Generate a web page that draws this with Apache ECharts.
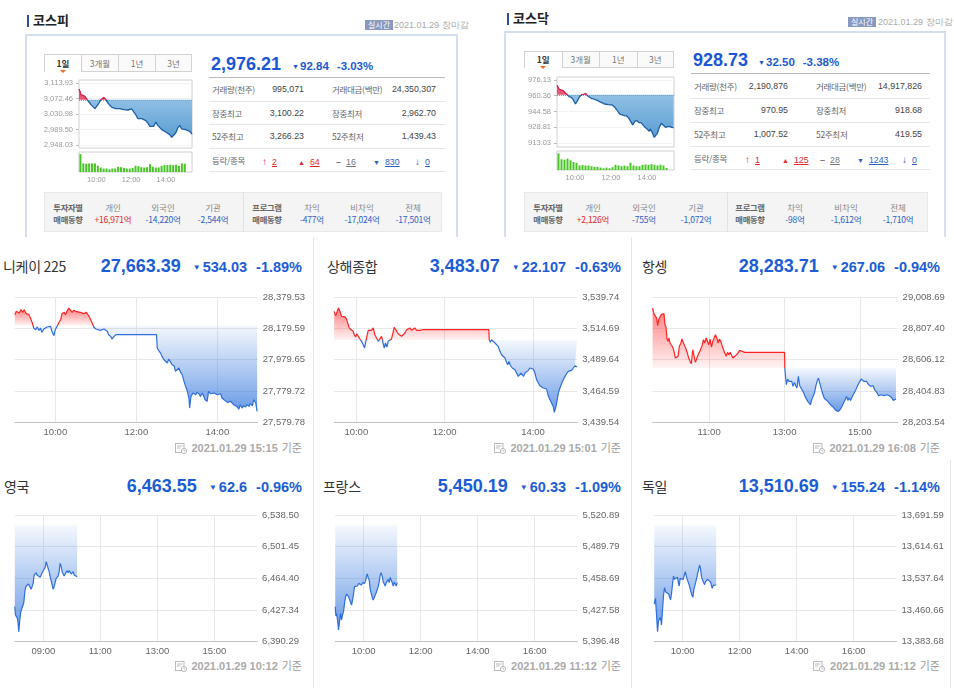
<!DOCTYPE html>
<html><head><meta charset="utf-8">
<script src="https://cdn.jsdelivr.net/npm/echarts@6/dist/echarts.min.js"></script>
<style>
body{margin:0;background:#fff;font-family:"Liberation Sans","Noto Sans CJK KR",sans-serif;}
#root{position:relative;width:954px;height:688px;overflow:hidden;background:#fff;}
.abs{position:absolute;white-space:nowrap;}
</style></head>
<body><div id="root"></div>
<script>
// ---------------- DATA ----------------
const kospiQuote = ['2,976.21', '92.84', '-3.03%'];
const kospiPrevClose = 3069.05;
const kospiStats = [['거래량(천주)', '995,071', '거래대금(백만)', '24,350,307'], ['장중최고', '3,100.22', '장중최저', '2,962.70'], ['52주최고', '3,266.23', '52주최저', '1,439.43']];
const kospiBreadth = ['2', '64', '16', '830', '0'];
const kospiInvestors = [['개인', '+16,971억'], ['외국인', '-14,220억'], ['기관', '-2,544억']];
const kospiProgram = [['차익', '-477억'], ['비차익', '-17,024억'], ['전체', '-17,501억']];
const kospiYTicks = [2948.03, 2989.50, 3030.98, 3072.46, 3113.93];
const kospiData = [[540,3098.0],[543.4,3091.6],[546.9,3082.7],[553.8,3082.7],[560.6,3078.3],[567.5,3069.3],[574.4,3063.1],[581.3,3056.0],[588.2,3054.2],[595.1,3045.3],[598.5,3042.6],[601.9,3047.0],[608.8,3060.4],[615.7,3069.3],[622.6,3072.0],[626.0,3075.6],[632.9,3069.3],[639.8,3060.4],[646.7,3054.2],[653.6,3048.8],[660.4,3048.8],[667.3,3045.3],[674.2,3044.4],[681.1,3045.3],[688.0,3044.4],[694.8,3042.6],[701.7,3041.7],[708.6,3041.7],[715.5,3042.6],[722.4,3044.4],[729.3,3036.3],[736.1,3029.2],[743.0,3018.5],[749.9,3020.3],[756.8,3018.5],[763.7,3015.8],[770.5,3013.1],[777.4,3006.9],[784.3,2998.0],[791.2,3000.7],[798.1,2998.0],[805.0,3009.6],[811.8,3000.7],[818.7,2998.0],[825.6,2989.1],[832.5,2984.6],[839.4,2982.8],[846.2,2977.5],[853.1,2975.7],[860.0,2968.6],[863.5,2965.0],[866.9,2966.8],[873.8,2980.2],[880.7,2993.5],[887.5,3000.7],[894.4,2990.9],[901.3,2986.4],[908.2,2989.1],[915.1,2986.4],[921.9,2984.6],[930,2977.5]];
const kospiVolume = [[545,52],[555,25],[565,24],[575,25],[585,25],[595,25],[605,18],[615,13],[625,10],[635,10],[645,8],[655,10],[665,10],[675,15],[685,14],[695,12],[705,10],[715,10],[725,12],[735,18],[745,17],[755,14],[765,13],[775,14],[785,23],[795,15],[805,13],[815,13],[825,18],[835,20],[845,20],[855,21],[865,20],[875,21],[885,18],[895,25],[905,24]];

const kosdaqQuote = ['928.73', '32.50', '-3.38%'];
const kosdaqPrevClose = 961.23;
const kosdaqStats = [['거래량(천주)', '2,190,876', '거래대금(백만)', '14,917,826'], ['장중최고', '970.95', '장중최저', '918.68'], ['52주최고', '1,007.52', '52주최저', '419.55']];
const kosdaqBreadth = ['1', '125', '28', '1243', '0'];
const kosdaqInvestors = [['개인', '+2,126억'], ['외국인', '-755억'], ['기관', '-1,072억']];
const kosdaqProgram = [['차익', '-98억'], ['비차익', '-1,612억'], ['전체', '-1,710억']];
const kosdaqYTicks = [913.03, 928.81, 944.58, 960.36, 976.13];
const kosdaqData = [[540,970.9],[546.8,967.1],[553.6,966.1],[560.5,965.5],[567.3,963.4],[574.1,961.4],[580.9,959.4],[587.8,958.8],[594.6,956.1],[601.4,952.1],[608.2,955.4],[615.0,959.4],[621.9,961.4],[628.7,961.8],[635.5,962.8],[642.3,960.1],[649.2,958.8],[656.0,957.4],[662.8,957.1],[669.6,956.1],[676.4,955.4],[683.3,954.1],[690.1,953.4],[696.9,952.1],[703.7,951.8],[710.6,951.4],[717.4,951.1],[724.2,951.1],[731.0,949.4],[737.8,946.8],[744.7,943.8],[751.5,941.4],[758.3,941.1],[765.1,940.4],[772.0,940.1],[778.8,938.1],[785.6,934.7],[792.4,931.1],[799.2,934.7],[806.1,935.4],[812.9,933.4],[819.7,933.4],[826.5,931.1],[833.3,928.7],[840.2,927.1],[847.0,924.7],[850.4,927.1],[857.2,923.7],[864.0,918.7],[867.5,918.0],[874.3,922.7],[881.1,928.7],[887.9,932.7],[894.7,930.7],[901.6,928.7],[908.4,929.4],[915.2,929.7],[922.0,928.7],[928.8,928.4]];
const kosdaqVolume = [[545,48],[555,31],[565,30],[575,33],[585,28],[595,23],[605,21],[615,13],[625,14],[635,13],[645,13],[655,11],[665,9],[675,9],[685,7],[695,5],[705,7],[715,5],[725,8],[735,15],[745,13],[755,11],[765,13],[775,11],[785,21],[795,13],[805,11],[815,11],[825,15],[835,16],[845,15],[855,17],[865,15],[875,13],[885,15],[895,13],[905,6]];

const krXTicks = [600, 720, 840];
const tabLabels = ['1일', '3개월', '1년', '3년'];

const nikkeiQuote = ['27,663.39', '534.03', '-1.89%'];
const nikkeiPrevClose = 28197.42;
const nikkeiYTicks = [27579.78, 27779.72, 27979.65, 28179.59, 28379.53];
const nikkeiXTicks = [600, 720, 840];
const nikkeiData = [[540,28266.8],[542,28288.0],[544,28294.5],[547,28277.4],[549,28298.7],[552,28281.7],[554,28298.7],[557,28273.2],[561,28266.8],[563,28245.5],[566,28213.6],[568,28181.7],[571,28171.1],[573,28188.1],[576,28166.8],[578,28181.7],[580,28154.0],[583,28175.3],[585,28166.8],[588,28188.1],[590,28181.7],[593,28192.4],[595,28160.5],[598,28132.8],[600,28171.1],[603,28196.6],[605,28213.6],[608,28234.9],[610,28273.2],[613,28281.7],[615,28266.8],[618,28294.5],[620,28309.3],[622,28298.7],[625,28281.7],[627,28294.5],[630,28288.1],[632,28298.7],[637,28281.7],[642,28273.2],[646,28281.7],[650,28256.2],[652,28245.5],[655,28209.4],[657,28188.1],[660,28175.3],[662,28181.7],[667,28166.8],[672,28175.3],[674,28166.8],[677,28160.5],[679,28139.2],[682,28128.5],[684,28111.5],[687,28128.5],[690,28139.2],[750,28139.2],[751,28054.1],[753,28039.2],[756,28022.2],[758,28000.9],[761,27979.6],[763,27969.0],[766,27958.4],[768,27983.9],[771,27962.6],[773,27947.7],[776,27941.4],[778,27905.2],[780,27915.9],[783,27926.5],[785,27905.2],[788,27883.9],[790,27852.0],[793,27809.5],[795,27788.2],[798,27735.1],[799,27671.2],[801,27745.6],[804,27766.9],[808,27756.3],[810,27771.2],[813,27762.7],[815,27745.6],[818,27766.9],[820,27756.3],[822,27724.4],[825,27713.8],[827,27777.6],[830,27762.7],[832,27750.0],[835,27766.9],[840,27756.3],[842,27745.6],[845,27762.7],[847,27735.1],[850,27724.4],[852,27728.7],[855,27707.4],[860,27713.8],[864,27692.5],[869,27681.9],[872,27664.9],[874,27692.5],[877,27671.2],[879,27686.1],[882,27677.6],[884,27692.5],[887,27681.9],[889,27699.2],[892,27686.1],[894,27724.4],[897,27703.1],[899,27650.0]];

const shanghaiQuote = ['3,483.07', '22.107', '-0.63%'];
const shanghaiPrevClose = 3505.177;
const shanghaiYTicks = [3439.54, 3464.59, 3489.64, 3514.69, 3539.74];
const shanghaiXTicks = [600, 720, 840];
const shanghaiData = [[570.0,3528.3],[571.8,3524.8],[573.2,3526.4],[574.5,3529.1],[575.9,3530.9],[577.2,3529.1],[578.6,3526.9],[580.0,3524.3],[582.2,3522.9],[584.5,3523.8],[586.8,3522.1],[588.1,3522.9],[589.9,3515.8],[591.7,3514.2],[593.5,3513.1],[595.8,3512.3],[597.2,3509.6],[599.0,3507.8],[600.8,3510.4],[602.6,3508.3],[604.9,3506.2],[607.1,3504.3],[609.4,3501.6],[611.2,3499.0],[612.6,3503.0],[614.4,3508.3],[616.2,3513.1],[618.5,3514.2],[620.7,3513.1],[623.0,3515.0],[625.2,3509.6],[627.5,3507.0],[629.8,3504.3],[632.0,3503.0],[634.3,3508.3],[636.6,3509.6],[637.9,3499.0],[639.7,3503.0],[641.5,3499.8],[643.4,3504.3],[645.6,3505.6],[647.9,3506.2],[650.2,3512.3],[651.5,3515.5],[653.3,3514.2],[655.1,3512.3],[656.9,3510.4],[659.2,3511.5],[661.5,3508.3],[663.7,3509.6],[666.0,3511.0],[668.3,3513.6],[670.5,3512.3],[672.8,3515.0],[675.1,3513.1],[677.3,3514.2],[679.6,3515.0],[681.9,3513.1],[684.1,3512.3],[686.4,3513.1],[688.6,3513.6],[690,3513.6],[780,3513.6],[780.5,3505.6],[781.9,3503.5],[783.7,3505.6],[786.0,3504.3],[788.3,3503.0],[790.5,3501.6],[792.8,3500.3],[795.1,3496.3],[797.3,3493.6],[799.6,3492.3],[801.9,3491.0],[804.1,3487.5],[805.5,3485.6],[807.3,3488.3],[809.5,3484.8],[811.8,3483.0],[813.6,3484.3],[815.4,3481.6],[817.7,3480.3],[820.0,3476.3],[821.8,3475.0],[823.6,3479.0],[825.4,3480.3],[827.2,3476.3],[829.0,3479.0],[831.3,3477.6],[833.6,3481.1],[835.8,3483.0],[838.1,3483.8],[840.3,3482.2],[842.6,3479.0],[844.9,3473.6],[847.1,3471.0],[849.4,3468.9],[851.7,3468.3],[853.9,3467.0],[856.2,3465.7],[858.5,3466.2],[860.7,3460.8],[863.0,3457.7],[865.2,3456.3],[867.5,3452.3],[868.9,3447.5],[870.7,3450.9],[872.5,3456.3],[874.3,3463.0],[876.6,3467.0],[878.8,3470.5],[881.1,3473.6],[883.4,3476.3],[885.6,3478.4],[887.9,3480.3],[890.2,3479.0],[892.4,3481.1],[894.7,3483.0],[897.0,3484.8],[899.7,3483.8]];

const hangSengQuote = ['28,283.71', '267.06', '-0.94%'];
const hangSengPrevClose = 28550.77;
const hangSengYTicks = [28203.54, 28404.83, 28606.12, 28807.40, 29008.69];
const hangSengXTicks = [660, 780, 900];
const hangSengData = [[570.0,28938.0],[572.1,28901.6],[574.3,28888.8],[576.4,28873.8],[578.0,28824.5],[579.6,28863.1],[581.7,28880.2],[583.8,28895.2],[586.0,28888.8],[588.1,28901.6],[589.7,28830.9],[591.3,28816.0],[592.9,28738.9],[594.5,28723.9],[596.1,28745.3],[597.7,28713.2],[599.8,28717.5],[601.9,28687.5],[604.1,28659.6],[606.2,28616.8],[608.3,28610.4],[610.4,28627.5],[612.6,28691.8],[614.7,28708.9],[616.8,28738.9],[619.0,28713.2],[621.1,28717.5],[623.2,28674.6],[625.3,28648.9],[627.5,28616.8],[629.6,28595.4],[631.7,28580.4],[633.9,28670.3],[636.0,28681.0],[638.1,28589.0],[640.3,28580.4],[642.4,28638.2],[644.5,28653.2],[646.6,28674.6],[648.8,28696.0],[650.9,28734.6],[653.0,28713.2],[655.2,28745.3],[657.3,28734.6],[659.4,28702.5],[661.5,28738.9],[663.7,28687.5],[665.8,28723.9],[667.9,28745.3],[670.1,28766.7],[672.2,28745.3],[674.3,28713.2],[676.4,28738.9],[678.6,28723.9],[680.7,28696.0],[682.8,28670.3],[685.0,28648.9],[687.1,28627.5],[689.2,28653.2],[691.3,28638.2],[693.5,28653.2],[695.6,28648.9],[697.7,28616.8],[699.9,28610.4],[702.0,28631.8],[704.1,28627.5],[706.2,28648.9],[708.4,28666.1],[710.5,28670.3],[712.6,28659.6],[714.8,28657.5],[716.9,28653.2],[720,28653.2],[780,28653.2],[780.5,28552.6],[781.3,28509.7],[782.9,28445.5],[785.0,28481.9],[787.1,28466.9],[789.3,28456.2],[791.4,28466.9],[793.5,28434.8],[795.7,28460.5],[797.8,28439.1],[799.9,28424.1],[802.0,28499.0],[804.2,28439.1],[806.3,28424.1],[808.4,28413.4],[810.6,28392.0],[812.7,28370.6],[814.8,28353.4],[816.9,28338.4],[819.1,28327.7],[821.2,28317.0],[823.3,28349.1],[825.5,28370.6],[827.6,28392.0],[829.7,28434.8],[831.8,28466.9],[834.0,28488.3],[836.1,28456.2],[838.2,28424.1],[840.4,28392.0],[842.5,28366.3],[844.6,28353.4],[846.7,28359.9],[848.9,28338.4],[851.0,28327.7],[853.1,28317.0],[855.3,28310.6],[857.4,28302.0],[859.5,28295.6],[861.6,28280.6],[863.8,28284.9],[865.9,28274.2],[868.0,28284.9],[870.2,28295.6],[872.3,28306.3],[874.4,28332.0],[876.5,28349.1],[878.7,28370.6],[880.8,28344.9],[882.9,28359.9],[885.1,28344.9],[887.2,28353.4],[889.3,28381.3],[891.4,28392.0],[893.6,28413.4],[895.7,28434.8],[897.8,28451.9],[900.0,28466.9],[902.1,28481.9],[904.2,28477.6],[906.3,28466.9],[908.5,28477.6],[910.6,28466.9],[912.7,28451.9],[914.9,28460.5],[917.0,28434.8],[919.1,28424.1],[921.2,28439.1],[923.4,28413.4],[925.5,28402.7],[927.6,28392.0],[929.8,28374.9],[931.9,28366.3],[934.0,28381.3],[936.1,28370.6],[938.3,28374.9],[940.4,28366.3],[942.5,28381.3],[944.7,28370.6],[946.8,28374.9],[948.9,28366.3],[951.0,28359.9],[953.2,28344.9],[955.3,28353.4],[957.4,28353.4]];

const ukQuote = ['6,463.55', '62.6', '-0.96%'];
const ukPrevClose = 6526.15;
const ukYTicks = [6390.29, 6427.34, 6464.40, 6501.45, 6538.50];
const ukXTicks = [540, 660, 780, 900];
const ukData = [[480.0,6431.24],[481.4,6421.49],[482.8,6419.54],[484.2,6423.44],[485.6,6417.59],[487.0,6411.74],[488.4,6401.99],[490.5,6415.64],[492.6,6425.39],[494.7,6427.34],[496.8,6426.56],[498.9,6435.92],[501.1,6448.79],[503.2,6454.64],[506.0,6455.42],[508.8,6457.76],[511.6,6456.59],[514.4,6451.52],[516.5,6449.96],[518.6,6458.54],[520.7,6468.29],[522.8,6470.24],[524.9,6471.02],[527.0,6468.29],[529.1,6466.34],[531.2,6467.12],[533.3,6465.56],[535.4,6468.29],[537.5,6471.02],[539.7,6473.37],[541.8,6474.93],[543.9,6477.27],[546.0,6483.90],[548.1,6480.00],[550.2,6476.10],[552.3,6472.19],[554.4,6466.34],[556.5,6461.66],[558.6,6456.59],[560.7,6451.52],[562.8,6454.64],[564.9,6459.32],[567.0,6464.39],[569.1,6465.56],[571.2,6467.12],[573.3,6472.19],[575.4,6481.95],[577.5,6478.83],[579.7,6472.19],[581.8,6469.46],[583.9,6467.12],[586.0,6469.46],[588.1,6471.02],[590.2,6473.37],[592.3,6471.02],[594.4,6473.37],[596.5,6472.19],[598.6,6469.46],[600.7,6469.46],[602.8,6472.19],[604.9,6468.29],[607.0,6467.90],[609.1,6466.34],[611.2,6466.34]];

const franceQuote = ['5,450.19', '60.33', '-1.09%'];
const francePrevClose = 5510.52;
const franceYTicks = [5396.48, 5427.58, 5458.69, 5489.79, 5520.89];
const europeXTicks = [600, 720, 840, 960];
const franceData = [[540.0,5430.85],[541.4,5421.69],[542.8,5424.31],[544.9,5417.76],[547.0,5407.94],[549.1,5416.12],[551.2,5424.31],[553.3,5417.76],[555.4,5422.67],[557.5,5425.94],[559.7,5434.13],[561.8,5440.68],[563.9,5443.29],[566.0,5442.64],[568.1,5440.68],[570.2,5440.68],[572.3,5439.04],[574.4,5432.49],[576.5,5437.40],[578.6,5443.29],[580.7,5450.50],[582.8,5452.13],[584.9,5448.86],[587.0,5451.15],[589.1,5453.77],[591.2,5453.12],[593.3,5453.12],[595.4,5452.13],[597.5,5454.43],[599.7,5453.12],[601.8,5453.77],[603.9,5456.39],[606.0,5460.97],[607.4,5462.94],[609.5,5459.34],[611.6,5457.05],[613.7,5447.88],[615.8,5443.95],[617.9,5440.02],[620.0,5437.40],[622.1,5436.75],[624.2,5442.33],[626.3,5444.60],[628.4,5444.60],[630.5,5450.50],[632.6,5455.41],[634.7,5461.96],[636.8,5464.25],[639.0,5460.32],[641.1,5455.41],[643.2,5453.45],[645.3,5451.15],[647.4,5454.43],[649.5,5456.39],[651.6,5457.70],[653.7,5454.43],[655.8,5459.67],[657.9,5460.32],[660.0,5454.43],[662.1,5451.15],[664.2,5455.08],[666.3,5453.12],[668.4,5451.15],[670.5,5454.43]];

const germanyQuote = ['13,510.69', '155.24', '-1.14%'];
const germanyPrevClose = 13665.93;
const germanyYTicks = [13383.68, 13460.66, 13537.64, 13614.61, 13691.59];
const germanyData = [[540.0,13475.24],[541.4,13472.81],[542.8,13489.02],[544.9,13448.50],[547.0,13408.00],[549.1,13434.73],[551.2,13436.35],[553.3,13442.83],[555.4,13424.19],[557.5,13460.66],[559.7,13497.12],[561.8,13514.94],[563.9,13505.22],[566.0,13501.17],[568.1,13505.22],[570.2,13499.55],[572.3,13493.07],[574.4,13484.97],[576.5,13501.17],[578.6,13523.86],[580.7,13543.30],[582.8,13535.20],[584.9,13540.06],[587.0,13530.34],[589.1,13540.06],[591.2,13525.48],[592.6,13519.00],[594.7,13537.63],[596.8,13533.58],[598.9,13535.20],[601.1,13535.20],[603.2,13540.06],[605.3,13553.84],[606.7,13557.89],[608.8,13537.63],[610.9,13532.77],[613.0,13523.86],[615.1,13515.76],[617.2,13505.22],[619.3,13497.12],[621.4,13491.45],[623.5,13510.89],[625.6,13513.32],[627.7,13529.53],[629.8,13540.06],[631.9,13551.41],[634.0,13561.94],[635.4,13570.04],[637.6,13561.13],[639.7,13540.06],[641.8,13533.58],[643.9,13529.53],[646.0,13522.24],[648.1,13529.53],[650.2,13527.10],[652.3,13535.20],[654.4,13533.58],[656.5,13540.06],[658.6,13528.72],[660.7,13523.86],[662.1,13513.32],[664.2,13520.62],[666.3,13523.86],[668.4,13520.62],[670.5,13521.43]];

// ---------------- HELPERS ----------------
const FONT = "'Liberation Sans', Arial, sans-serif";
const KFONT = "'Noto Sans CJK KR', sans-serif";
const root = document.getElementById('root');
function T(x, cy, html, css, align) {
  const d = document.createElement('div');
  d.className = 'abs';
  d.style.cssText = css || '';
  d.style.top = (cy - 10) + 'px';
  d.style.height = '20px';
  d.style.lineHeight = '20px';
  if (align === 'right') d.style.right = (954 - x) + 'px';
  else if (align === 'center') { d.style.left = x + 'px'; d.style.transform = 'translateX(-50%)'; }
  else d.style.left = x + 'px';
  d.innerHTML = html;
  root.appendChild(d);
  return d;
}
function B(x, y, w, h, css) {
  const d = document.createElement('div');
  d.className = 'abs';
  d.style.cssText = css || '';
  d.style.left = x + 'px'; d.style.top = y + 'px';
  d.style.width = w + 'px'; d.style.height = h + 'px';
  d.style.boxSizing = 'border-box';
  root.appendChild(d);
  return d;
}
function fmtTime(m) {
  const h = Math.floor(m / 60), mm = Math.round(m % 60);
  return String(h).padStart(2, '0') + ':' + String(mm).padStart(2, '0');
}
function fmtNum(v) {
  return v.toLocaleString('en-US', {minimumFractionDigits: 2, maximumFractionDigits: 2});
}
function chartDiv(x, y, w, h) {
  const d = B(x, y, w, h, '');
  return echarts.init(d, null, {renderer: 'canvas'});
}
const vgrad = (a, b) => ({type: 'linear', x: 0, y: 0, x2: 0, y2: 1, colorStops: [{offset: 0, color: a}, {offset: 1, color: b}]});
// finite pieces so that the line gets a real colour gradient split at the previous close
const splitPieces = (base, lo, hi, cDown, cUp) => [{gte: lo, lt: base, color: cDown}, {gte: base, lte: hi, color: cUp}];

// ---------------- KOREAN PANELS ----------------
function krPanel(c) {
  B(c.box[0], c.box[1], c.box[2], c.box[3], 'border:2px solid #d3deee;border-bottom:none;');
  B(c.barX, c.barY, 2, 12, 'background:#2b4f9e');
  T(c.titleX, c.titleCy, c.title, 'font:bold 13px ' + KFONT + ';color:#222');
  const bd = T(c.badgeX, c.badgeCy, '실시간', 'font:8px ' + KFONT + ';color:#fff;background:#8898bf;padding:0 3px;');
  bd.style.height = '10px'; bd.style.lineHeight = '10px'; bd.style.top = (c.badgeCy - 5) + 'px';
  T(c.dateX, c.badgeCy, '2021.01.29 장마감', 'font:9px ' + FONT + ';color:#aaa');
  // tabs
  const tw = c.tabs[2] / 4;
  tabLabels.forEach((t, i) => {
    const sel = i === 0;
    const tb = B(c.tabs[0] + i * tw, c.tabs[1], tw + (i < 3 ? 1 : 0), c.tabs[3],
      'border:1px solid #d2d2d2;' + (sel ? 'border-bottom:none;background:#fff;' : 'background:#fafafa;') +
      'text-align:center;font:' + (sel ? 'bold ' : '') + '8.5px ' + KFONT + ';color:' + (sel ? '#333' : '#777') + ';line-height:' + (c.tabs[3] - 2) + 'px');
    tb.textContent = t;
  });
  B(c.tabs[0] + tw / 2 - 3, c.tabs[1] + c.tabs[3] - 2, 6, 4, 'width:0;height:0;border-left:3px solid transparent;border-right:3px solid transparent;border-top:3px solid #f36b21;');
  // price
  T(c.priceX, c.priceCy,
    '<span style="font:bold 18px ' + FONT + ';color:#1a56d6">' + c.quote[0] + '</span>' +
    '<span style="margin-left:' + c.gap1 + 'px;font-size:7px;color:#1d5ad2;vertical-align:1px">▼</span>' +
    '<span style="font:bold 11.5px ' + FONT + ';color:#1d5ad2;margin-left:1px">' + c.quote[1] + '</span>' +
    '<span style="font:bold 11.5px ' + FONT + ';color:#1d5ad2;margin-left:' + c.gap2 + 'px">' + c.quote[2] + '</span>', '');
  // table
  const tl = c.table;
  B(tl.x0, tl.top, tl.x1 - tl.x0, 1, 'background:#b9b9b9');
  tl.lines.forEach(y => B(tl.x0, y, tl.x1 - tl.x0, 1, 'background:#e6e6e6'));
  const lab = 'font:8.5px ' + KFONT + ';color:#666;letter-spacing:-0.3px';
  const val = 'font:8.8px ' + FONT + ';color:#444';
  c.stats.forEach((r, i) => {
    const cy = tl.rows[i];
    T(tl.cols[0], cy, r[0], lab);
    T(tl.cols[1], cy, r[1], val, 'right');
    T(tl.cols[2], cy, r[2], lab);
    T(tl.cols[3], cy, r[3], val, 'right');
  });
  const cy4 = tl.rows[3];
  T(tl.cols[0], cy4, '등락/종목', lab);
  const red = '#e3262d', blu = '#2c5fc7';
  const syms = [['↑', red, 'bold 10px'], ['▲', red, '7px'], ['–', '#777', 'bold 9px'], ['▼', blu, '7px'], ['↓', blu, 'bold 10px']];
  const ucol = [red, red, '#777', blu, blu];
  c.breadth.forEach((v, i) => {
    T(tl.bx[i], cy4, '<span style="font:' + syms[i][2] + ' ' + FONT + ';color:' + syms[i][1] + '">' + syms[i][0] + '</span>' +
      '<u style="margin-left:5px;font:8.8px ' + FONT + ';color:' + ucol[i] + '">' + v + '</u>', '');
  });
  // investor box
  const iv = c.inv;
  B(iv.x0, iv.y0, iv.x1 - iv.x0, iv.y1 - iv.y0, 'background:#f4f4f4;border:1px solid #e8e8e8');
  B(iv.div, iv.y0, 1, iv.y1 - iv.y0, 'background:#e2e2e2');
  const hb = 'font:bold 8.3px ' + KFONT + ';color:#666;letter-spacing:-0.3px';
  const hn = 'font:8.5px ' + KFONT + ';color:#888';
  T(iv.cx[0], iv.r1, '투자자별', hb, 'center');
  T(iv.cx[0], iv.r2, '매매동향', hb, 'center');
  T(iv.cx[4], iv.r1, '프로그램', hb, 'center');
  T(iv.cx[4], iv.r2, '매매동향', hb, 'center');
  const vv = (s) => 'font:8.5px ' + KFONT + ';letter-spacing:-0.2px;color:' + (s.charAt(0) === '+' ? '#e3262d' : '#2c5fc7');
  c.investors.forEach((p, i) => { T(iv.cx[1 + i], iv.r1, p[0], hn, 'center'); T(iv.cx[1 + i], iv.r2, p[1], vv(p[1]), 'center'); });
  c.program.forEach((p, i) => { T(iv.cx[5 + i], iv.r1, p[0], hn, 'center'); T(iv.cx[5 + i], iv.r2, p[1], vv(p[1]), 'center'); });
  // chart
  const ch = chartDiv(c.chart[0], c.chart[1], c.chart[2], c.chart[3]);
  const up = c.data.map(d => [d[0], Math.max(d[1], c.base)]);
  const dn = c.data.map(d => [d[0], Math.min(d[1], c.base)]);
  ch.setOption({
    animation: false,
    grid: [Object.assign({show: true, borderColor: '#d0d0d0', borderWidth: 1, backgroundColor: '#fff'}, c.g0),
           Object.assign({show: true, borderColor: '#d0d0d0', borderWidth: 1, backgroundColor: '#fff'}, c.g1)],
    xAxis: [
      {gridIndex: 0, type: 'value', min: 540, max: 930, show: false},
      {gridIndex: 1, type: 'value', min: 540, max: 930, axisLine: {show: false}, axisTick: {show: false, customValues: krXTicks}, splitLine: {show: false},
       axisLabel: {customValues: krXTicks, formatter: fmtTime, fontSize: 7.5, color: '#999', margin: 4, fontFamily: FONT}}
    ],
    yAxis: [
      {gridIndex: 0, type: 'value', min: c.yMin, max: c.yMax, axisLine: {show: false},
       axisTick: {show: true, customValues: c.yTicks, length: 3, lineStyle: {color: '#bbb'}},
       axisLabel: {customValues: c.yTicks, formatter: fmtNum, fontSize: 7.5, color: '#999', margin: 6, fontFamily: FONT},
       splitLine: {show: true, lineStyle: {color: '#f2f2f2'}}},
      {gridIndex: 1, type: 'value', min: 0, max: c.volMax, show: false}
    ],
    visualMap: {show: false, type: 'piecewise', seriesIndex: 0, dimension: 1,
      pieces: splitPieces(c.base, c.yMin - 100, c.yMax + 100, '#1c5fa6', '#d81e4a')},
    series: [
      {type: 'line', data: c.data, symbol: 'none', lineStyle: {width: 1.3}, z: 5, silent: true,
       markLine: {silent: true, symbol: 'none', label: {show: false}, lineStyle: {type: 'dotted', color: '#999', width: 1}, data: [{yAxis: c.base}]}},
      {type: 'line', data: up, symbol: 'none', lineStyle: {width: 0}, areaStyle: {origin: c.base, color: 'rgba(228,58,98,0.85)', opacity: 1}, z: 3, silent: true},
      {type: 'line', data: dn, symbol: 'none', lineStyle: {width: 0}, areaStyle: {origin: c.base, color: vgrad('#8fc0e4', '#5b9dd3'), opacity: 1}, z: 3, silent: true},
      {type: 'bar', xAxisIndex: 1, yAxisIndex: 1, data: c.vol, barWidth: 2, itemStyle: {color: '#47c625'}, silent: true}
    ]
  });
}

krPanel({
  title: '코스피', box: [25, 34, 433, 203], barX: 27, barY: 15, titleX: 33, titleCy: 20,
  badgeX: 365, badgeCy: 25, dateX: 394,
  tabs: [44, 54, 148, 18],
  quote: kospiQuote, priceX: 211, priceCy: 64, gap1: 11, gap2: 8,
  table: {x0: 209, x1: 445, top: 77, lines: [100.5, 124, 147.5, 171], rows: [89, 112.5, 136, 159.5],
          cols: [212, 304, 332, 436], bx: [262, 298, 336, 373, 415]},
  stats: kospiStats, breadth: kospiBreadth,
  inv: {x0: 44, x1: 442, y0: 192, y1: 232, div: 243, cx: [68, 113, 163, 213, 267, 312, 362, 413], r1: 207, r2: 219},
  investors: kospiInvestors, program: kospiProgram,
  chart: [40, 76, 160, 112], g0: {left: 39, top: 4, width: 113, height: 68}, g1: {left: 39, top: 76, width: 113, height: 20},
  yMin: 2940, yMax: 3122, yTicks: kospiYTicks, base: kospiPrevClose, data: kospiData, vol: kospiVolume, volMax: 58
});
krPanel({
  title: '코스닥', box: [504, 31, 442, 206], barX: 507, barY: 13, titleX: 513, titleCy: 18,
  badgeX: 848, badgeCy: 21.5, dateX: 878,
  tabs: [524, 51, 150, 17],
  quote: kosdaqQuote, priceX: 693, priceCy: 60, gap1: 10, gap2: 8,
  table: {x0: 691, x1: 930, top: 73, lines: [97.5, 121.5, 145.5, 169], rows: [86, 110, 134, 158],
          cols: [694, 788, 816, 922], bx: [745, 782, 820, 857, 902]},
  stats: kosdaqStats, breadth: kosdaqBreadth,
  inv: {x0: 524, x1: 928, y0: 192, y1: 232, div: 727, cx: [548, 593, 644, 696, 750, 795, 846, 898], r1: 207, r2: 219},
  investors: kosdaqInvestors, program: kosdaqProgram,
  chart: [520, 72, 160, 112], g0: {left: 37, top: 5, width: 117, height: 70}, g1: {left: 37, top: 79, width: 117, height: 19},
  yMin: 909, yMax: 979.1, yTicks: kosdaqYTicks, base: kosdaqPrevClose, data: kosdaqData, vol: kosdaqVolume, volMax: 55
});

// ---------------- WORLD INDEX PANELS ----------------
B(313, 237, 1, 451, 'background:#e6e6e6');
B(631, 237, 1, 451, 'background:#e6e6e6');
B(950, 460, 1, 228, 'background:#e6e6e6');

const clockIcon = '<svg width="12" height="12" viewBox="0 0 12 12" style="vertical-align:-2px;margin-right:5px"><rect x="0.5" y="1.5" width="8.5" height="9" fill="none" stroke="#bbb"/><line x1="2" y1="4" x2="7.5" y2="4" stroke="#bbb"/><line x1="2" y1="6" x2="5.5" y2="6" stroke="#bbb"/><circle cx="9" cy="9" r="2.6" fill="#fff" stroke="#bbb"/><path d="M9 7.6V9h1.2" stroke="#bbb" fill="none"/></svg>';

function idxPanel(p) {
  T(p.titleX, p.cy, p.name, 'font:14px ' + KFONT + ';color:#333;letter-spacing:-0.3px');
  const blue = '#1b5dd6';
  T(p.right, p.cy,
    '<span style="font:bold 18px ' + FONT + ';color:' + blue + '">' + p.quote[0] + '</span>' +
    '<span style="margin-left:12px;font-size:8px;color:' + blue + ';vertical-align:2px">▼</span>' +
    '<span style="font:bold 14.5px ' + FONT + ';color:' + blue + ';margin-left:2px">' + p.quote[1] + '</span>' +
    '<span style="font:bold 14.5px ' + FONT + ';color:' + blue + ';margin-left:9px">' + p.quote[2] + '</span>', '', 'right');
  T(p.right, p.fy, clockIcon + '<span style="font:bold 11px ' + FONT + ';color:#aaa">' + p.stamp + '</span>' +
    '<span style="font:11px ' + KFONT + ';color:#999;margin-left:4px">기준</span>', '', 'right');
  const ch = chartDiv(p.x0, p.plotT - 10, p.w, p.plotH + 32);
  const up = p.data.map(d => [d[0], Math.max(d[1], p.base)]);
  const dn = p.data.map(d => [d[0], Math.min(d[1], p.base)]);
  const yMin = p.yTicks[0], yMax = p.yTicks[p.yTicks.length - 1];
  ch.setOption({
    animation: false,
    grid: {left: p.plotL - p.x0, top: 10, width: p.plotW, height: p.plotH},
    xAxis: {type: 'value', min: p.xMin, max: p.xMax,
      axisLine: {show: true, lineStyle: {color: '#c4c4c4'}},
      axisTick: {show: false, customValues: p.xTicks},
      axisLabel: {customValues: p.xTicks, formatter: fmtTime, color: '#666', fontSize: 9.5, margin: 5, fontFamily: FONT},
      splitLine: {show: true, lineStyle: {color: '#e8e8e8'}}},
    yAxis: {type: 'value', position: 'right', min: yMin, max: yMax,
      axisLine: {show: false}, axisTick: {show: false, customValues: p.yTicks},
      axisLabel: {customValues: p.yTicks, formatter: fmtNum, color: '#666', fontSize: 9.5, margin: 5, fontFamily: FONT},
      splitLine: {show: true, lineStyle: {color: '#e8e8e8'}}},
    visualMap: {show: false, type: 'piecewise', seriesIndex: 0, dimension: 1,
      pieces: splitPieces(p.base, yMin - 1000, yMax + 1000, '#2e6fdc', '#ff2424')},
    series: [
      {type: 'line', data: p.data, symbol: 'none', lineStyle: {width: 1.2}, z: 5, silent: true},
      {type: 'line', data: up, symbol: 'none', lineStyle: {width: 0}, areaStyle: {origin: p.base, color: vgrad('rgba(255,45,45,0.62)', 'rgba(255,45,45,0.05)'), opacity: 1}, z: 3, silent: true},
      {type: 'line', data: dn, symbol: 'none', lineStyle: {width: 0}, areaStyle: {origin: p.base, color: vgrad('rgba(60,125,225,0.06)', 'rgba(47,115,220,0.72)'), opacity: 1}, z: 3, silent: true}
    ]
  });
}

const row1 = {cy: 266, plotT: 297.3, plotH: 125.4, fy: 447};
const row2 = {cy: 486, plotT: 515, plotH: 126.7, fy: 665};
idxPanel(Object.assign({name: '니케이 225', quote: nikkeiQuote, stamp: '2021.01.29 15:15', x0: 0, w: 313, titleX: 3, right: 302,
  plotL: 14.8, plotW: 243, xMin: 540, xMax: 900, xTicks: nikkeiXTicks, yTicks: nikkeiYTicks, base: nikkeiPrevClose, data: nikkeiData}, row1));
idxPanel(Object.assign({name: '상해종합', quote: shanghaiQuote, stamp: '2021.01.29 15:01', x0: 314, w: 317, titleX: 327, right: 621,
  plotL: 334.2, plotW: 243, xMin: 570, xMax: 900, xTicks: shanghaiXTicks, yTicks: shanghaiYTicks, base: shanghaiPrevClose, data: shanghaiData}, row1));
idxPanel(Object.assign({name: '항셍', quote: hangSengQuote, stamp: '2021.01.29 16:08', x0: 632, w: 322, titleX: 642, right: 940,
  plotL: 652.6, plotW: 245, xMin: 570, xMax: 960, xTicks: hangSengXTicks, yTicks: hangSengYTicks, base: hangSengPrevClose, data: hangSengData}, row1));
idxPanel(Object.assign({name: '영국', quote: ukQuote, stamp: '2021.01.29 10:12', x0: 0, w: 313, titleX: 4, right: 302,
  plotL: 14.8, plotW: 242.3, xMin: 480, xMax: 990, xTicks: ukXTicks, yTicks: ukYTicks, base: ukPrevClose, data: ukData}, row2));
idxPanel(Object.assign({name: '프랑스', quote: franceQuote, stamp: '2021.01.29 11:12', x0: 314, w: 317, titleX: 323, right: 621,
  plotL: 335.2, plotW: 242.3, xMin: 540, xMax: 1050, xTicks: europeXTicks, yTicks: franceYTicks, base: francePrevClose, data: franceData}, row2));
idxPanel(Object.assign({name: '독일', quote: germanyQuote, stamp: '2021.01.29 11:12', x0: 632, w: 318, titleX: 642, right: 940,
  plotL: 654.2, plotW: 242.3, xMin: 540, xMax: 1050, xTicks: europeXTicks, yTicks: germanyYTicks, base: germanyPrevClose, data: germanyData}, row2));
</script>
</body></html>
